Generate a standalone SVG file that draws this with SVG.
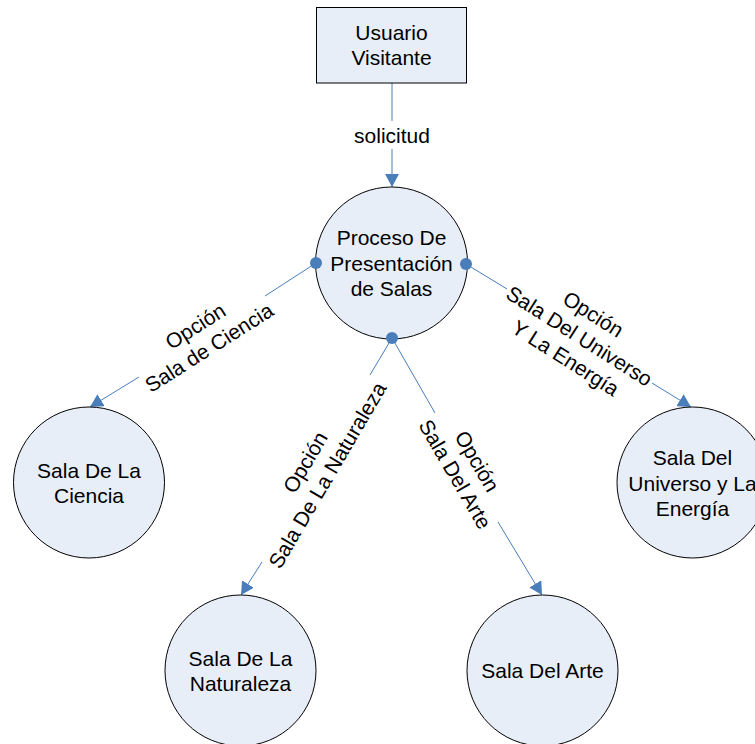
<svg xmlns="http://www.w3.org/2000/svg" width="755" height="744" viewBox="0 0 755 744">
<defs>
<style>
.node{fill:#e8eef8;stroke:#000;stroke-width:1}
.t{font-family:"Liberation Sans",Arial,sans-serif;font-size:21px;fill:#000;text-anchor:middle}
.c{fill:none;stroke:#4a7ebb;stroke-width:1}
.dot{fill:#4a7ebb}
</style>
<marker id="arr" markerUnits="userSpaceOnUse" markerWidth="14" markerHeight="14" refX="13" refY="7" orient="auto" viewBox="0 0 14 14">
<path d="M0,0 L13,7 L0,14 Z" fill="#4a7ebb"/>
</marker>
</defs>
<rect width="755" height="744" fill="#fff"/>
<g id="connectors">
<line class="c" x1="392" y1="83" x2="392" y2="121"/>
<line class="c" x1="392" y1="149" x2="392" y2="187" marker-end="url(#arr)"/>
<text class="t" x="392" y="142.5">solicitud</text>
<line class="c" x1="316" y1="263" x2="265" y2="296"/>
<line class="c" x1="139" y1="377" x2="90" y2="407" marker-end="url(#arr)"/>
<g transform="translate(202,336.5) rotate(-32.5)">
<text class="t" x="0" y="-5">Opción</text>
<text class="t" x="0" y="20.5">Sala de Ciencia</text>
</g>
<line class="c" x1="466" y1="264" x2="507" y2="289"/>
<line class="c" x1="652" y1="383" x2="691" y2="407" marker-end="url(#arr)"/>
<g transform="translate(579.5,336) rotate(32.4)">
<text class="t" x="0" y="-18.5">Opción</text>
<text class="t" x="0" y="7.5">Sala Del Universo</text>
<text class="t" x="0" y="33.5">Y La Energía</text>
</g>
<line class="c" x1="392" y1="338" x2="370" y2="375"/>
<line class="c" x1="262" y1="562" x2="241" y2="595" marker-end="url(#arr)"/>
<g transform="translate(316,468.5) rotate(-59.6)">
<text class="t" x="0" y="-5">Opción</text>
<text class="t" x="0" y="20.5">Sala De La Naturaleza</text>
</g>
<line class="c" x1="392" y1="338" x2="435" y2="413"/>
<line class="c" x1="498" y1="522" x2="542" y2="595" marker-end="url(#arr)"/>
<g transform="translate(466.5,467.5) rotate(59.7)">
<text class="t" x="0" y="-5">Opción</text>
<text class="t" x="0" y="20.5">Sala Del Arte</text>
</g>
</g>
<g id="usuario">
<rect class="node" x="316.5" y="7.5" width="150" height="75.5"/>
<text class="t" x="391.5" y="39.5">Usuario</text>
<text class="t" x="391.5" y="64.5">Visitante</text>
</g>
<g id="proceso">
<circle class="node" cx="391.5" cy="263" r="76"/>
<text class="t" x="391.5" y="245">Proceso De</text>
<text class="t" x="391.5" y="270.5">Presentación</text>
<text class="t" x="391.5" y="296">de Salas</text>
<circle class="dot" cx="316" cy="263" r="6"/>
<circle class="dot" cx="466" cy="264" r="6"/>
<circle class="dot" cx="392" cy="338" r="6"/>
</g>
<g id="ciencia">
<circle class="node" cx="89" cy="482.5" r="75.5"/>
<text class="t" x="89" y="477.5">Sala De La</text>
<text class="t" x="89" y="503">Ciencia</text>
</g>
<g id="naturaleza">
<circle class="node" cx="240.5" cy="670.5" r="75.5"/>
<text class="t" x="240.5" y="665.5">Sala De La</text>
<text class="t" x="240.5" y="691">Naturaleza</text>
</g>
<g id="arte">
<circle class="node" cx="542.5" cy="670.5" r="75.5"/>
<text class="t" x="542.5" y="678">Sala Del Arte</text>
</g>
<g id="universo">
<circle class="node" cx="692.5" cy="482.5" r="75.5"/>
<text class="t" x="692.5" y="465">Sala Del</text>
<text class="t" x="692.5" y="490.5">Universo y La</text>
<text class="t" x="692.5" y="516">Energía</text>
</g>
</svg>
